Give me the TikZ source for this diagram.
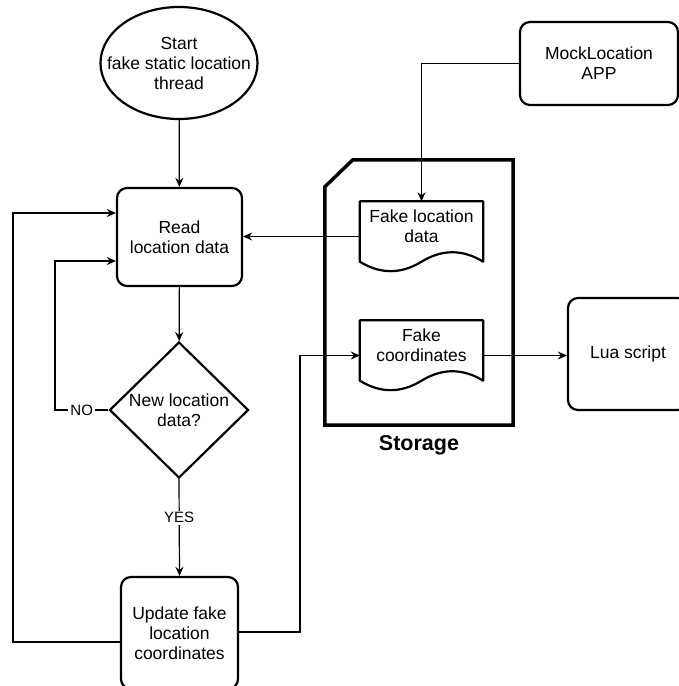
\documentclass[tikz,border=0pt]{standalone}
\usepackage{fontspec}
\setmainfont{Liberation Sans}
\usetikzlibrary{shapes.geometric,arrows.meta,calc,positioning}

\tikzset{
  box/.style={draw, line width=2.2pt, rounded corners=10pt, align=center,
    font=\fontsize{17.5}{20}\selectfont},
  startnode/.style={draw, ellipse, line width=2.2pt, inner sep=-20pt,
    minimum width=157pt, minimum height=112pt, align=center,
    font=\fontsize{17.5}{20}\selectfont},
  decision/.style={draw, diamond, line width=2.2pt, inner sep=0pt,
    minimum width=139pt, minimum height=136pt, align=center,
    font=\fontsize{17.5}{20}\selectfont},
  docnode/.style={minimum width=123pt, minimum height=50pt, inner sep=0pt,
    align=center, font=\fontsize{17.5}{20}\selectfont},
  docline/.style={line width=2.2pt, line join=round},
  conn/.style={line width=1.2pt, -{Stealth[length=9pt,width=8pt]}},
  plain/.style={line width=1.2pt},
  lbl/.style={fill=white, inner sep=2pt, font=\fontsize{15}{18}\selectfont}
}

% document shape drawn around a docnode
\newcommand\docshape[1]{%
  \draw[docline] (#1.north west) -- (#1.north east) -- ($(#1.south east)+(0,10)$)
    .. controls ($(#1.south east)+(-20.5,-2.6)$) and ($(#1.south)+(20.5,-2.6)$) .. ($(#1.south)+(0,10)$)
    .. controls ($(#1.south)+(-20.5,22.6)$) and ($(#1.south west)+(20.5,22.6)$) .. ($(#1.south west)+(0,10)$)
    -- cycle;}

\begin{document}
\begin{tikzpicture}[x=1pt, y=-1pt]
  \useasboundingbox (0,0) rectangle (678,686);

  % left column
  \node[startnode] (start) at (179,63) {Start\\fake static location\\thread};
  \node[box, minimum width=125pt, minimum height=98pt] (read) at (179.5,237) {Read\\location data};
  \node[decision] (check) at (179,410) {New location\\data?};
  \node[box, minimum width=117pt, minimum height=112pt] (update) at (179.5,633) {Update fake\\location\\coordinates};

  % storage
  \node[minimum width=188pt, minimum height=265pt, inner sep=0pt] (storage) at (419,292.5) {};
  \draw[line width=3.5pt, line join=miter]
    ($(storage.north west)+(28,0)$) -- (storage.north east) -- (storage.south east)
    -- (storage.south west) -- ($(storage.north west)+(0,27)$) -- cycle;
  \node[font=\bfseries\fontsize{21.5}{24}\selectfont] (storagelbl) at (419,445) {Storage};

  \node[docnode] (locdata) at (421.5,226.5) {Fake location\\data};
  \docshape{locdata}
  \node[docnode] (coords) at (421.5,345.5) {Fake\\coordinates};
  \docshape{coords}

  % right column
  \node[box, minimum width=158pt, minimum height=83pt] (mock) at (599,63.5) {MockLocation\\APP};
  \node[box, minimum width=120pt, minimum height=112pt] (lua) at (628,354) {Lua script};

  % connectors
  \coordinate (noturn) at (55,410);
  \coordinate (outer) at (13,642);
  \coordinate (upturn) at (300,632);

  \draw[conn] (start) -- (read);
  \draw[conn] (read) -- (check);
  \draw[conn] (check.west) -- node[lbl] {NO} (noturn) |- ($(read.west)+(0,24)$);
  \draw[conn] (check.south) -- node[lbl, pos=0.4] {YES} (update.north);
  \draw[conn] ($(update.west)+(0,9)$) -- (outer) |- ($(read.west)+(0,-24)$);
  \draw[conn] (update.east |- upturn) -- (upturn) |- ($(coords.west)+(0,10)$);
  \draw[conn] ($(locdata.west)+(0,10)$) -- (read.east |- {$(locdata.west)+(0,10)$});
  \draw[conn] (mock.west) -| (locdata.north);
  \draw[conn] ($(coords.east)+(0,10)$) -- (lua.west |- {$(coords.east)+(0,10)$});
\end{tikzpicture}
\end{document}
